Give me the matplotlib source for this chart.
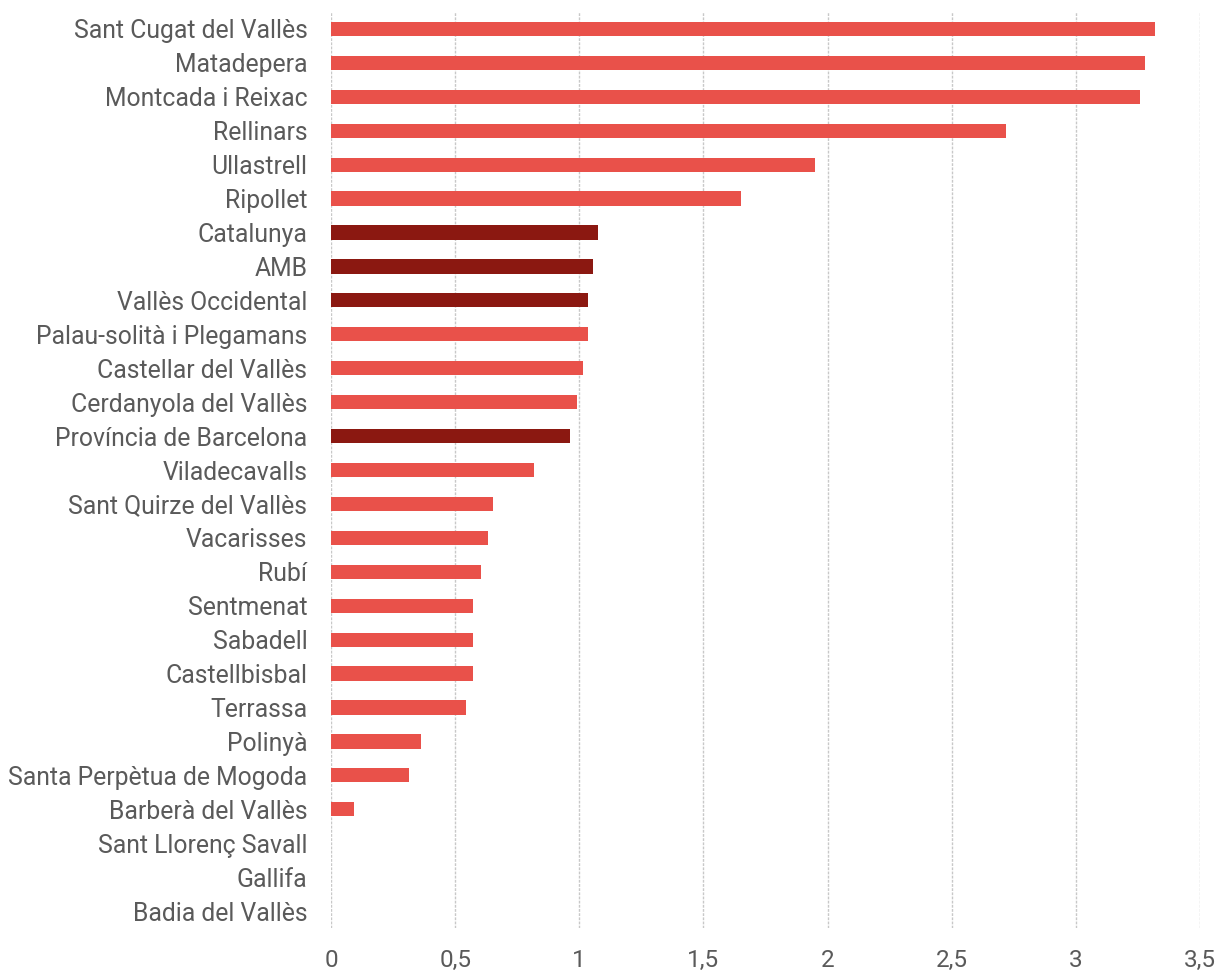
import matplotlib
matplotlib.use("Agg")
import matplotlib.pyplot as plt

categories = ["Sant Cugat del Vallès", "Matadepera", "Montcada i Reixac", "Rellinars",
              "Ullastrell", "Ripollet", "Catalunya", "AMB", "Vallès Occidental",
              "Palau-solità i Plegamans", "Castellar del Vallès", "Cerdanyola del Vallès",
              "Província de Barcelona", "Viladecavalls", "Sant Quirze del Vallès",
              "Vacarisses", "Rubí", "Sentmenat", "Sabadell", "Castellbisbal", "Terrassa",
              "Polinyà", "Santa Perpètua de Mogoda", "Barberà del Vallès",
              "Sant Llorenç Savall", "Gallifa", "Badia del Vallès"]
values = [3.32, 3.28, 3.26, 2.72, 1.95, 1.65, 1.074, 1.055, 1.035, 1.035, 1.016, 0.992,
          0.964, 0.817, 0.652, 0.632, 0.603, 0.571, 0.571, 0.573, 0.543, 0.363, 0.314,
          0.094, 0.0, 0.0, 0.0]
aggregates = ["Catalunya", "AMB", "Vallès Occidental", "Província de Barcelona"]
xticks = [0, 0.5, 1, 1.5, 2, 2.5, 3, 3.5]
xticklabels = ["0", "0,5", "1", "1,5", "2", "2,5", "3", "3,5"]

plt.rcParams['font.family'] = ['Roboto', 'DejaVu Sans']

fig = plt.figure(figsize=(12.19, 9.71), dpi=100)
ax = fig.add_axes([331/1219, 1-928/971, (1200-331)/1219, (928-12)/971])

colors = ["#8B1811" if c in aggregates else "#E9514A" for c in categories]
ypos = list(range(len(categories)))
ax.barh(ypos, values, height=0.42, color=colors, zorder=3)
ax.set_ylim(len(categories) - 0.5, -0.5)
ax.set_xlim(0, 3.5)
ax.set_yticks(ypos)
ax.set_yticklabels(categories, fontsize=17.8, color="#5a5a5a")
ax.set_xticks(xticks)
ax.set_xticklabels(xticklabels, fontsize=17.5, color="#5a5a5a")
ax.tick_params(axis='both', length=0)
ax.tick_params(axis='y', pad=17)
ax.tick_params(axis='x', pad=15)
for s in ax.spines.values():
    s.set_visible(False)
ax.xaxis.grid(True, color="#C8C8C8", linestyle=(0, (2, 1)), linewidth=1, zorder=0)
ax.set_axisbelow(True)

fig.savefig("out.png", dpi=100)
